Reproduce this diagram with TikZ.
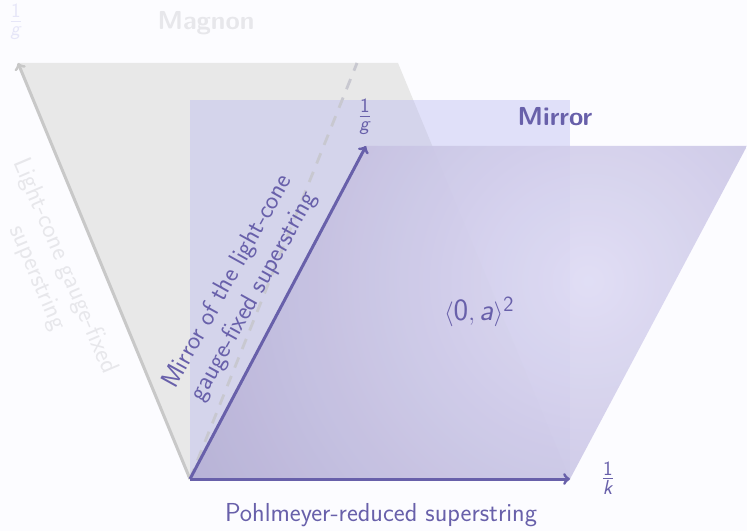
\documentclass[tikz,border=0pt]{standalone}
\usepackage{fontspec}
\usepackage{amsmath}
\definecolor{bgc}{RGB}{252,252,255}
\definecolor{mpurple}{RGB}{104,96,170}
\definecolor{greyfill}{RGB}{232,232,232}
\definecolor{greyline}{RGB}{200,200,200}
\definecolor{dashc}{RGB}{200,200,208}
\definecolor{fainttext}{RGB}{231,231,235}
\definecolor{faintpurple}{RGB}{230,230,248}
\definecolor{rectc}{RGB}{180,180,240}
\definecolor{shadein}{RGB}{222,219,244}
\definecolor{shadeout}{RGB}{180,174,212}
\newcommand{\sv}[1]{\textsf{\textit{#1}}}
\begin{document}
\begin{tikzpicture}[x=1pt,y=1pt,
  lbl/.style={font=\sffamily\fontsize{26}{30}\selectfont},
  ttl/.style={font=\sffamily\bfseries\fontsize{26}{30}\selectfont},
  mathlbl/.style={font=\sffamily\fontsize{31}{36}\selectfont},
  fraclbl/.style={font=\sffamily\fontsize{29}{34}\selectfont},
  purparrow/.style={draw=mpurple,line width=3pt,->},
  greyarrow/.style={draw=greyline,line width=3pt,->},
  dashline/.style={draw=dashc,line width=2.8pt,dash pattern=on 11pt off 9pt}]
\fill[bgc] (0,0) rectangle (747,531);
\useasboundingbox (0,0) rectangle (747,531);
\coordinate (O) at (190,52);
\coordinate (A) at (18,468);
\coordinate (B) at (398,468);
\coordinate (C) at (570,52);
\coordinate (D) at (357,468);
\coordinate (P) at (366,385);
\coordinate (Q) at (747,385);
\fill[greyfill] (O) -- (A) -- (B) -- (C) -- cycle;
\fill[rectc,opacity=.38] (190,52) rectangle (570,431);
\draw[dashline] (O) -- (D);
\begin{scope}[opacity=.9]
\clip (O) -- (P) -- (Q) -- (C) -- cycle;
\shade[inner color=shadein,outer color=shadeout] (588,250) circle (460);
\end{scope}
\draw[greyarrow] (O) -- (A);
\draw[purparrow] (O) -- (P);
\draw[purparrow] (O) -- (C);
\node[fraclbl,text=faintpurple] (g0) at (16,509) {$\frac{\textsf{1}}{\sv{g}}$};
\node[fraclbl,text=mpurple] (g1) at (365,414) {$\frac{\textsf{1}}{\sv{g}}$};
\node[fraclbl,text=mpurple] (k1) at (608,53) {$\frac{\textsf{1}}{\sv{k}}$};
\node[ttl,text=fainttext] (magnon) at (206,508) {Magnon};
\node[ttl,text=mpurple] (mirror) at (555,414) {Mirror};
\node[lbl,text=fainttext,rotate=-67,align=center] (lc) at (51,259) {Light-cone gauge-fixed\\superstring};
\node[lbl,text=mpurple,rotate=61,align=center] (mlc) at (241,242) {Mirror of the light-cone\\gauge-fixed superstring};
\node[mathlbl,text=mpurple] (ang) at (479,219) {$\langle \textsf{0}, \sv{a}\rangle^{\textsf{2}}$};
\node[lbl,text=mpurple] (pohl) at (381,16) {Pohlmeyer-reduced superstring};
\end{tikzpicture}
\end{document}
